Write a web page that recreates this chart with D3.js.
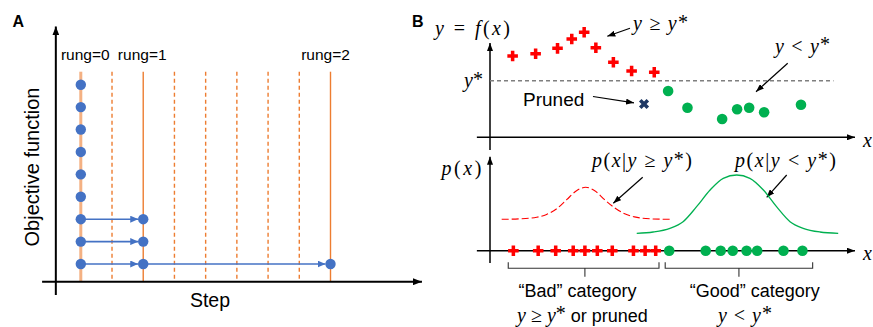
<!DOCTYPE html>
<html><head><meta charset="utf-8">
<script src="https://cdn.jsdelivr.net/npm/d3@7"></script>
<style>
html,body{margin:0;padding:0;background:#fff;}
svg{display:block;}
</style></head>
<body>
<svg id="chart" width="873" height="327"></svg>
<script>
// ---------------- DATA ----------------
// Panel A: successive halving (rungs)
const steps = [0, 1, 2, 3, 4, 5, 6, 7, 8];
const rungSteps = [0, 2, 8];
const rungLabels = ["rung=0", "rung=1", "rung=2"];
const rung0Values = [9, 8, 7, 6, 5, 4, 3, 2, 1];
const rung1Values = [3, 2, 1];
const rung2Values = [1];

// Panel B top: observations y = f(x)
const badX = [6.2, 12.5, 18.5, 22.4, 25.8, 29.0, 33.8, 38.8, 45.0];
const badY = [75.8, 77.9, 82.9, 91.6, 97.9, 83.5, 69.9, 61.8, 60.6];
const prunedX = [42.2];
const prunedY = [31.0];
const goodX = [48.8, 54.1, 63.6, 67.7, 71.0, 75.1, 85.2];
const goodY = [43.1, 27.6, 17.1, 26.1, 27.6, 23.3, 30.4];
const yStar = [52.8];

// Panel B bottom: projected x positions
const badProjX = [6.4, 13.2, 18.0, 22.8, 26.0, 29.4, 33.5, 39.3, 42.5, 45.4];
const goodProjX = [49.1, 59.1, 63.2, 66.5, 70.3, 73.2, 80.4, 85.6];

// Density curves
const badDensX = [3.2, 8.2, 12.8, 15.5, 18.3, 21.0, 23.7, 26.2, 28.7, 31.4, 34.1, 36.9, 39.6, 44.2, 49.3];
const badDensY = [0.314, 0.319, 0.335, 0.362, 0.420, 0.510, 0.600, 0.634, 0.600, 0.510, 0.430, 0.370, 0.338, 0.318, 0.314];
const goodDensX = [40.2, 44.7, 49.3, 52.9, 56.6, 60.3, 63.9, 67.6, 71.2, 74.9, 78.5, 82.2, 85.8, 90.4, 95.4];
const goodDensY = [0.174, 0.187, 0.224, 0.290, 0.440, 0.607, 0.724, 0.757, 0.724, 0.607, 0.440, 0.290, 0.224, 0.187, 0.174];

// ---------------- DRAW ----------------
const svg = d3.select("#chart");
const defs = svg.append("defs");
function marker(id, color, len, wid) {
  defs.append("marker").attr("id", id)
    .attr("viewBox", `0 0 ${len} ${wid}`).attr("refX", len).attr("refY", wid / 2)
    .attr("markerWidth", len).attr("markerHeight", wid)
    .attr("markerUnits", "userSpaceOnUse").attr("orient", "auto")
    .append("path").attr("d", `M0,0L${len},${wid / 2}L0,${wid}Z`).attr("fill", color);
}
marker("axA", "#000", 9, 7);
marker("blue", "#4472c4", 8, 7);
marker("blk", "#000", 8, 6);

const SANS = "'Liberation Sans', Arial, sans-serif";
const SERIF = "'Liberation Serif', 'Times New Roman', serif";

// Panel labels
svg.append("text").attr("x", 12.5).attr("y", 26.5).text("A")
  .attr("font-family", SANS).attr("font-weight", "bold").attr("font-size", 16);
svg.append("text").attr("x", 412).attr("y", 26.5).text("B")
  .attr("font-family", SANS).attr("font-weight", "bold").attr("font-size", 16);

// ===== Panel A =====
const xA = d3.scaleLinear().domain([0, 8]).range([80.8, 330.5]);
const yA = d3.scaleLinear().domain([1, 9]).range([264, 84.7]);
const gA = svg.append("g");

// vertical step lines
gA.selectAll("line.step").data(steps).join("line")
  .attr("x1", d => xA(d)).attr("x2", d => xA(d))
  .attr("y1", yA(9.58)).attr("y2", yA(0.21))
  .attr("stroke", d => d === 0 ? "#f4b183" : "#ed7d31")
  .attr("stroke-width", d => d === 0 ? 3 : 1.4)
  .attr("stroke-dasharray", d => rungSteps.includes(d) ? null : "4,3");

// axes
gA.append("line").attr("x1", xA(-1.24)).attr("x2", xA(10.93))
  .attr("y1", yA(0.21)).attr("y2", yA(0.21))
  .attr("stroke", "#000").attr("stroke-width", 2).attr("marker-end", "url(#axA)");
gA.append("line").attr("x1", xA(-0.8)).attr("x2", xA(-0.8))
  .attr("y1", yA(-0.38)).attr("y2", yA(11.6))
  .attr("stroke", "#000").attr("stroke-width", 2).attr("marker-end", "url(#axA)");

// rung labels
gA.selectAll("text.rung").data(rungSteps).join("text")
  .attr("x", (d, i) => xA(d) + [4.5, -1, -5][i]).attr("y", 60)
  .attr("text-anchor", "middle").attr("font-family", SANS).attr("font-size", 15.5)
  .text((d, i) => rungLabels[i]);

// promotion arrows
const links = [];
rung1Values.forEach(v => links.push({ from: rungSteps[0], to: rungSteps[1], v }));
rung2Values.forEach(v => links.push({ from: rungSteps[1], to: rungSteps[2], v }));
gA.selectAll("line.link").data(links).join("line")
  .attr("x1", d => xA(d.from) + 4).attr("x2", d => xA(d.to) - 5)
  .attr("y1", d => yA(d.v)).attr("y2", d => yA(d.v))
  .attr("stroke", "#4472c4").attr("stroke-width", 1.6).attr("marker-end", "url(#blue)");

// dots
const dotsA = [];
rung0Values.forEach(v => dotsA.push({ s: rungSteps[0], v }));
rung1Values.forEach(v => dotsA.push({ s: rungSteps[1], v }));
rung2Values.forEach(v => dotsA.push({ s: rungSteps[2], v }));
gA.selectAll("circle").data(dotsA).join("circle")
  .attr("cx", d => xA(d.s)).attr("cy", d => yA(d.v)).attr("r", 5.2)
  .attr("fill", "#4472c4");

// axis titles
gA.append("text").attr("transform", `translate(39,167) rotate(-90)`)
  .attr("text-anchor", "middle").attr("font-family", SANS).attr("font-size", 20)
  .text("Objective function");
gA.append("text").attr("x", 210).attr("y", 306.5).attr("text-anchor", "middle")
  .attr("font-family", SANS).attr("font-size", 19.5).text("Step");

// ===== Panel B =====
const xB = d3.scaleLinear().domain([0, 100]).range([490, 855]);
const yT = d3.scaleLinear().domain([0, 100]).range([137.3, 30]);
const yD = d3.scaleLinear().domain([0, 1]).range([250.7, 150.7]);
const gB = svg.append("g");

function mathText(g, x, y, parts, size, anchor, width) {
  const t = g.append("text").attr("x", x).attr("y", y)
    .attr("font-family", SERIF).attr("font-size", size)
    .attr("text-anchor", anchor || "start");
  let shift = 0;
  parts.forEach(p => {
    const ts = t.append("tspan").text(p.t)
      .attr("font-style", p.i ? "italic" : "normal");
    const want = p.sup ? -1.5 : 0;
    if (want !== shift) { ts.attr("dy", want - shift); shift = want; }
    if (p.dx) ts.attr("dx", p.dx);
    if (p.sans) ts.attr("font-family", SANS).attr("font-size", 18);
  });
  if (width) t.attr("textLength", width).attr("lengthAdjust", "spacing");
  return t;
}

// top axes
gB.append("line").attr("x1", xB(-3.6)).attr("x2", xB(100))
  .attr("y1", yT(0)).attr("y2", yT(0))
  .attr("stroke", "#000").attr("stroke-width", 1.5).attr("marker-end", "url(#blk)");
gB.append("line").attr("x1", xB(0)).attr("x2", xB(0))
  .attr("y1", yT(-11.8)).attr("y2", yT(87.9))
  .attr("stroke", "#000").attr("stroke-width", 1.5).attr("marker-end", "url(#blk)");

// y* dashed line
gB.selectAll("line.ystar").data(yStar).join("line")
  .attr("x1", xB(0)).attr("x2", xB(94.1))
  .attr("y1", d => yT(d)).attr("y2", d => yT(d))
  .attr("stroke", "#7f7f7f").attr("stroke-width", 1.5).attr("stroke-dasharray", "4,3");

const crossPath = d3.symbol(d3.symbolCross, 62)();
const xPath = d3.symbol(d3.symbolCross, 64)();

// red crosses (top)
gB.selectAll("path.bad").data(badX).join("path")
  .attr("d", crossPath)
  .attr("transform", (d, i) => `translate(${xB(d)},${yT(badY[i])})`)
  .attr("fill", "#ff0000");
// pruned
gB.selectAll("path.pruned").data(prunedX).join("path")
  .attr("d", xPath)
  .attr("transform", (d, i) => `translate(${xB(d)},${yT(prunedY[i])}) rotate(45)`)
  .attr("fill", "#1f3864");
// green dots (top)
gB.selectAll("circle.good").data(goodX).join("circle")
  .attr("cx", d => xB(d)).attr("cy", (d, i) => yT(goodY[i])).attr("r", 5.3)
  .attr("fill", "#00b050");

// top labels
mathText(gB, 435, 35, [{ t: "y", i: true }, { t: " = " }, { t: "f", i: true }, { t: "(" }, { t: "x", i: true }, { t: ")" }], 20, "start", 75);
mathText(gB, 464, 87, [{ t: "y", i: true }, { t: "*", sup: true }], 20, "start");
mathText(gB, 633, 30, [{ t: "y", i: true }, { t: " ≥ " }, { t: "y", i: true }, { t: "*", sup: true }], 20, "start", 55);
mathText(gB, 775, 52.5, [{ t: "y", i: true }, { t: " < " }, { t: "y", i: true }, { t: "*", sup: true }], 20, "start", 55);
mathText(gB, 863, 147, [{ t: "x", i: true }], 20, "start");
gB.append("text").attr("x", 523).attr("y", 105.5).attr("font-family", SANS)
  .attr("font-size", 19).text("Pruned");

// annotation arrows
const annot = [
  [593, 96.5, 634, 102.8],
  [630, 28.3, 607.3, 36.2],
  [787.7, 63.3, 756, 91.7],
  [642.7, 177.3, 613.3, 203.3],
  [786.7, 175, 766.7, 197.3]
];
gB.selectAll("line.annot").data(annot).join("line")
  .attr("x1", d => d[0]).attr("y1", d => d[1]).attr("x2", d => d[2]).attr("y2", d => d[3])
  .attr("stroke", "#000").attr("stroke-width", 1.2).attr("marker-end", "url(#blk)");

// bottom axes
gB.append("line").attr("x1", xB(-3.6)).attr("x2", xB(100))
  .attr("y1", yD(0)).attr("y2", yD(0))
  .attr("stroke", "#000").attr("stroke-width", 1.5).attr("marker-end", "url(#blk)");
gB.append("line").attr("x1", xB(0)).attr("x2", xB(0))
  .attr("y1", yD(-0.123)).attr("y2", yD(0.94))
  .attr("stroke", "#000").attr("stroke-width", 1.5).attr("marker-end", "url(#blk)");

// density curves
const lineGen = d3.line().curve(d3.curveMonotoneX);
gB.append("path")
  .attr("d", lineGen(badDensX.map((x, i) => [xB(x), yD(badDensY[i])])))
  .attr("fill", "none").attr("stroke", "#ff0000").attr("stroke-width", 1.1)
  .attr("stroke-dasharray", "7,3");
gB.append("path")
  .attr("d", lineGen(goodDensX.map((x, i) => [xB(x), yD(goodDensY[i])])))
  .attr("fill", "none").attr("stroke", "#00b050").attr("stroke-width", 1.3);

// projected points
gB.selectAll("path.badp").data(badProjX).join("path")
  .attr("d", crossPath).attr("transform", d => `translate(${xB(d)},${yD(0)})`)
  .attr("fill", "#ff0000");
gB.selectAll("circle.goodp").data(goodProjX).join("circle")
  .attr("cx", d => xB(d)).attr("cy", yD(0)).attr("r", 5.3).attr("fill", "#00b050");

// brackets
function bracket(x0, x1, xc) {
  const top = 262.3, mid = 268.3, bot = 276.7;
  gB.append("path")
    .attr("d", `M${x0},${top}L${x0},${mid}L${x1},${mid}L${x1},${top}M${xc},${mid}L${xc},${bot}`)
    .attr("fill", "none").attr("stroke", "#333").attr("stroke-width", 1.1);
}
bracket(xB(5.0), xB(46.3), xB(26.0));
bracket(xB(48.0), xB(88.4), xB(68.2));

// bottom labels
mathText(gB, 441.5, 175, [{ t: "p", i: true }, { t: "(" }, { t: "x", i: true }, { t: ")" }], 20, "start", 40);
mathText(gB, 592, 167, [{ t: "p", i: true }, { t: "(" }, { t: "x", i: true }, { t: "|" }, { t: "y", i: true }, { t: " ≥ " }, { t: "y", i: true }, { t: "*", sup: true }, { t: ")" }], 20, "start", 100);
mathText(gB, 735, 167, [{ t: "p", i: true }, { t: "(" }, { t: "x", i: true }, { t: "|" }, { t: "y", i: true }, { t: " < " }, { t: "y", i: true }, { t: "*", sup: true }, { t: ")" }], 20, "start", 101);
mathText(gB, 863, 260, [{ t: "x", i: true }], 20, "start");

gB.append("text").attr("x", 577.5).attr("y", 296.7).attr("text-anchor", "middle")
  .attr("font-family", SANS).attr("font-size", 18).text("“Bad” category");
gB.append("text").attr("x", 754.7).attr("y", 296.7).attr("text-anchor", "middle")
  .attr("font-family", SANS).attr("font-size", 18).text("“Good” category");
mathText(gB, 517, 321.7, [{ t: "y", i: true }, { t: " ≥ " }, { t: "y", i: true }, { t: "*", sup: true }, { t: " or pruned", sans: true }], 20, "start");
mathText(gB, 718, 321.7, [{ t: "y", i: true }, { t: " < " }, { t: "y", i: true }, { t: "*", sup: true }], 20, "start", 54);
</script>
</body></html>
